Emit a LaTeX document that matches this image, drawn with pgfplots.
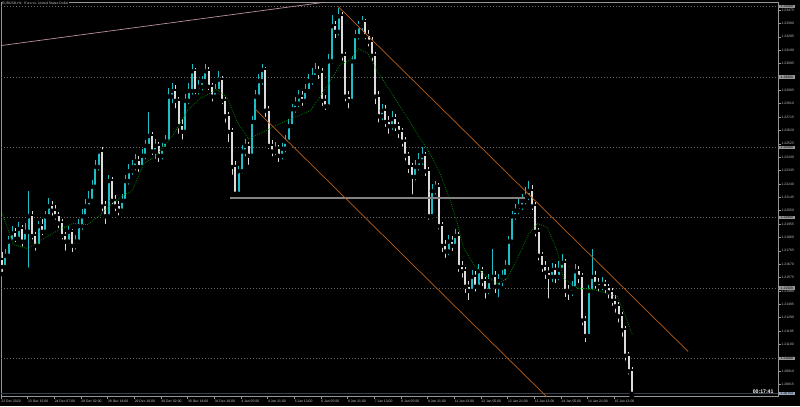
\documentclass[border=0pt]{standalone}
\usepackage{pgfplots}
\pgfplotsset{compat=1.18}
\usepackage{pgfplotstable}
\usepackage{fontspec}
\setmainfont{Liberation Sans}
\definecolor{bullc}{RGB}{30,190,200}
\definecolor{bearc}{RGB}{220,220,220}
\definecolor{mac}{RGB}{0,140,0}
\definecolor{levc}{RGB}{105,105,105}
\definecolor{chc}{RGB}{185,95,25}
\definecolor{trc}{RGB}{185,145,155}
\definecolor{hlc}{RGB}{130,130,130}
\definecolor{bidc}{RGB}{55,63,78}
\definecolor{bidbox}{RGB}{150,165,185}
\definecolor{boxc}{RGB}{150,150,150}
\definecolor{framec}{RGB}{150,150,150}
\definecolor{txtc}{RGB}{200,200,200}
\newcommand\tinyf{\fontsize{3.4}{4}\selectfont}
\tikzset{lvbox/.style={fill=boxc, text=black, font=\tinyf, inner xsep=1.6bp, inner ysep=0.5bp, anchor=west, xshift=0.6bp}}

\pgfplotstableread{
o h l c
1.2170 1.2176 1.2160 1.2165
1.2165 1.2178 1.2162 1.2173
1.2173 1.2187 1.2170 1.2183
1.2183 1.2194 1.2180 1.2189
1.2189 1.2193 1.2181 1.2185
1.2185 1.2197 1.2182 1.2192
1.2192 1.2195 1.2178 1.2183
1.2183 1.2196 1.2180 1.2190
1.2190 1.2219 1.2163 1.2201
1.2201 1.2205 1.2183 1.2187
1.2187 1.2190 1.2175 1.2180
1.2180 1.2198 1.2177 1.2194
1.2194 1.2199 1.2186 1.2190
1.2190 1.2205 1.2187 1.2201
1.2201 1.2214 1.2198 1.2208
1.2208 1.2212 1.2200 1.2205
1.2205 1.2209 1.2197 1.2201
1.2201 1.2204 1.2191 1.2196
1.2196 1.2199 1.2183 1.2187
1.2187 1.2190 1.2175 1.2183
1.2183 1.2194 1.2180 1.2190
1.2190 1.2192 1.2174 1.2180
1.2180 1.2188 1.2176 1.2183
1.2183 1.2199 1.2180 1.2194
1.2194 1.2206 1.2190 1.2201
1.2201 1.2213 1.2198 1.2208
1.2208 1.2219 1.2205 1.2212
1.2212 1.2227 1.2209 1.2222
1.2222 1.2241 1.2219 1.2236
1.2236 1.2249 1.2232 1.2247
1.2247 1.2250 1.2203 1.2208
1.2208 1.2212 1.2194 1.2201
1.2201 1.2230 1.2198 1.2226
1.2226 1.2229 1.2208 1.2212
1.2212 1.2216 1.2203 1.2208
1.2208 1.2212 1.2200 1.2205
1.2205 1.2217 1.2202 1.2212
1.2212 1.2230 1.2209 1.2226
1.2226 1.2238 1.2222 1.2233
1.2233 1.2241 1.2229 1.2236
1.2236 1.2245 1.2232 1.2240
1.2240 1.2244 1.2231 1.2236
1.2236 1.2249 1.2233 1.2244
1.2244 1.2255 1.2240 1.2251
1.2251 1.2275 1.2248 1.2258
1.2258 1.2261 1.2243 1.2247
1.2247 1.2256 1.2240 1.2251
1.2251 1.2254 1.2238 1.2244
1.2244 1.2253 1.2240 1.2249
1.2249 1.2259 1.2246 1.2254
1.2254 1.2292 1.2251 1.2286
1.2286 1.2296 1.2280 1.2290
1.2290 1.2294 1.2276 1.2283
1.2283 1.2286 1.2258 1.2265
1.2265 1.2270 1.2254 1.2261
1.2261 1.2288 1.2258 1.2283
1.2283 1.2296 1.2279 1.2290
1.2290 1.2309 1.2286 1.2304
1.2304 1.2306 1.2286 1.2290
1.2290 1.2298 1.2286 1.2293
1.2293 1.2301 1.2289 1.2297
1.2297 1.2309 1.2294 1.2304
1.2304 1.2307 1.2289 1.2293
1.2293 1.2296 1.2281 1.2286
1.2286 1.2295 1.2283 1.2290
1.2290 1.2304 1.2287 1.2298
1.2298 1.2301 1.2279 1.2283
1.2283 1.2286 1.2266 1.2272
1.2272 1.2275 1.2252 1.2261
1.2261 1.2264 1.2229 1.2236
1.2236 1.2240 1.2214 1.2217
1.2217 1.2237 1.2214 1.2233
1.2233 1.2252 1.2230 1.2247
1.2247 1.2256 1.2242 1.2251
1.2251 1.2254 1.2236 1.2244
1.2244 1.2272 1.2241 1.2268
1.2268 1.2291 1.2265 1.2286
1.2286 1.2302 1.2283 1.2297
1.2297 1.2309 1.2293 1.2305
1.2305 1.2307 1.2270 1.2276
1.2276 1.2279 1.2247 1.2251
1.2251 1.2255 1.2242 1.2247
1.2247 1.2254 1.2243 1.2249
1.2249 1.2252 1.2238 1.2244
1.2244 1.2253 1.2240 1.2249
1.2249 1.2259 1.2245 1.2254
1.2254 1.2270 1.2251 1.2265
1.2265 1.2281 1.2262 1.2277
1.2277 1.2286 1.2273 1.2281
1.2281 1.2291 1.2277 1.2286
1.2286 1.2290 1.2278 1.2283
1.2283 1.2295 1.2280 1.2290
1.2290 1.2302 1.2287 1.2297
1.2297 1.2306 1.2293 1.2300
1.2300 1.2310 1.2297 1.2304
1.2304 1.2308 1.2297 1.2303
1.2303 1.2306 1.2278 1.2283
1.2283 1.2287 1.2275 1.2279
1.2279 1.2316 1.2276 1.2311
1.2311 1.2344 1.2308 1.2336
1.2336 1.2340 1.2326 1.2332
1.2332 1.2349 1.2328 1.2343
1.2343 1.2346 1.2310 1.2315
1.2315 1.2318 1.2281 1.2286
1.2286 1.2290 1.2276 1.2283
1.2283 1.2315 1.2280 1.2311
1.2311 1.2333 1.2308 1.2329
1.2329 1.2340 1.2325 1.2336
1.2336 1.2343 1.2332 1.2339
1.2339 1.2341 1.2325 1.2329
1.2329 1.2333 1.2320 1.2325
1.2325 1.2328 1.2310 1.2315
1.2315 1.2318 1.2279 1.2286
1.2286 1.2290 1.2266 1.2272
1.2272 1.2281 1.2268 1.2276
1.2276 1.2280 1.2263 1.2268
1.2268 1.2272 1.2258 1.2265
1.2265 1.2276 1.2261 1.2270
1.2270 1.2274 1.2260 1.2265
1.2265 1.2268 1.2255 1.2261
1.2261 1.2264 1.2249 1.2254
1.2254 1.2257 1.2239 1.2244
1.2244 1.2247 1.2230 1.2236
1.2236 1.2239 1.2215 1.2229
1.2229 1.2241 1.2225 1.2236
1.2236 1.2246 1.2232 1.2240
1.2240 1.2250 1.2236 1.2244
1.2244 1.2247 1.2228 1.2233
1.2233 1.2236 1.2197 1.2201
1.2201 1.2224 1.2198 1.2219
1.2219 1.2226 1.2215 1.2222
1.2222 1.2225 1.2190 1.2194
1.2194 1.2197 1.2174 1.2180
1.2180 1.2184 1.2170 1.2176
1.2176 1.2188 1.2172 1.2183
1.2183 1.2187 1.2175 1.2180
1.2180 1.2192 1.2177 1.2187
1.2187 1.2190 1.2160 1.2165
1.2165 1.2169 1.2156 1.2162
1.2162 1.2165 1.2145 1.2151
1.2151 1.2155 1.2140 1.2148
1.2148 1.2163 1.2145 1.2158
1.2158 1.2162 1.2146 1.2151
1.2151 1.2167 1.2148 1.2162
1.2162 1.2165 1.2150 1.2155
1.2155 1.2158 1.2141 1.2148
1.2148 1.2160 1.2144 1.2155
1.2155 1.2178 1.2152 1.2158
1.2158 1.2162 1.2145 1.2151
1.2151 1.2160 1.2142 1.2155
1.2155 1.2163 1.2150 1.2158
1.2158 1.2170 1.2154 1.2165
1.2165 1.2187 1.2162 1.2183
1.2183 1.2205 1.2180 1.2201
1.2201 1.2210 1.2197 1.2205
1.2205 1.2213 1.2201 1.2208
1.2208 1.2217 1.2204 1.2212
1.2212 1.2222 1.2208 1.2215
1.2215 1.2226 1.2211 1.2219
1.2219 1.2223 1.2204 1.2208
1.2208 1.2211 1.2185 1.2190
1.2190 1.2193 1.2168 1.2173
1.2173 1.2176 1.2160 1.2165
1.2165 1.2169 1.2155 1.2161
1.2161 1.2165 1.2141 1.2158
1.2158 1.2168 1.2153 1.2163
1.2163 1.2167 1.2152 1.2158
1.2158 1.2169 1.2154 1.2163
1.2163 1.2174 1.2160 1.2168
1.2168 1.2171 1.2142 1.2148
1.2148 1.2152 1.2140 1.2147
1.2147 1.2155 1.2143 1.2150
1.2150 1.2167 1.2147 1.2162
1.2162 1.2166 1.2152 1.2158
1.2158 1.2161 1.2122 1.2127
1.2127 1.2130 1.2110 1.2116
1.2116 1.2152 1.2113 1.2148
1.2148 1.2178 1.2145 1.2158
1.2158 1.2162 1.2148 1.2153
1.2153 1.2157 1.2146 1.2151
1.2151 1.2158 1.2147 1.2153
1.2153 1.2156 1.2145 1.2150
1.2150 1.2153 1.2141 1.2147
1.2147 1.2150 1.2136 1.2141
1.2141 1.2145 1.2131 1.2137
1.2137 1.2140 1.2124 1.2130
1.2130 1.2133 1.2114 1.2120
1.2120 1.2123 1.2097 1.2102
1.2102 1.2105 1.2087 1.2091
1.2091 1.2094 1.2073 1.2075
}\candles

\begin{document}
\begin{tikzpicture}[x=1bp,y=1bp]
\useasboundingbox (0,0) rectangle (800,406);
\fill[black] (0,0) rectangle (800,406);
\begin{axis}[
  at={(0.5,6.7)}, anchor=south west,
  scale only axis, width=777.5bp, height=394bp,
  xmin=-0.12, xmax=466.4, ymin=1.20730, ymax=1.23528,
  axis line style={draw=framec, line width=0.6bp},
  xtick={0,16,...,368},
  xticklabels={22 Dec 2020,23 Dec 15:00,24 Dec 07:00,28 Dec 02:00,28 Dec 18:00,29 Dec 10:00,30 Dec 02:00,30 Dec 18:00,31 Dec 10:00,4 Jan 05:00,4 Jan 21:00,5 Jan 13:00,6 Jan 05:00,6 Jan 21:00,7 Jan 13:00,8 Jan 05:00,8 Jan 21:00,11 Jan 13:00,12 Jan 05:00,12 Jan 21:00,13 Jan 13:00,14 Jan 05:00,14 Jan 21:00,15 Jan 13:00},
  ytick={1.20815,1.20910,1.21005,1.21100,1.21195,1.21290,1.21385,1.21480,1.21575,1.21670,1.21765,1.21860,1.21955,1.22050,1.22145,1.22240,1.22335,1.22430,1.22525,1.22620,1.22715,1.22810,1.22905,1.23000,1.23095,1.23190,1.23285,1.23380,1.23475},
  xtick pos=bottom, ytick pos=right, yticklabel pos=right,
  tick align=outside, major tick length=2.5bp,
  tick style={draw=framec, line width=0.5bp},
  xticklabel style={font=\tinyf, text=txtc, anchor=north west, xshift=-0.3bp, inner sep=0.5bp},
  yticklabel style={font=\tinyf, text=txtc, anchor=west, inner sep=0.6bp,
     /pgf/number format/.cd, fixed, fixed zerofill, precision=5, assume math mode=true},
  scaled y ticks=false,
  clip mode=individual,
]
% level lines
\addplot[levc, line width=0.6bp, dash pattern=on 1.5bp off 1.5bp] coordinates {(-0.12,1.2350) (466.4,1.2350)};
\addplot[levc, line width=0.6bp, dash pattern=on 1.5bp off 1.5bp] coordinates {(-0.12,1.2300) (466.4,1.2300)};
\addplot[levc, line width=0.6bp, dash pattern=on 1.5bp off 1.5bp] coordinates {(-0.12,1.2250) (466.4,1.2250)};
\addplot[levc, line width=0.6bp, dash pattern=on 1.5bp off 1.5bp] coordinates {(-0.12,1.2200) (466.4,1.2200)};
\addplot[levc, line width=0.6bp, dash pattern=on 1.5bp off 1.5bp] coordinates {(-0.12,1.2150) (466.4,1.2150)};
\addplot[levc, line width=0.6bp, dash pattern=on 1.5bp off 1.5bp] coordinates {(-0.12,1.2100) (466.4,1.2100)};
% bid line
\addplot[bidc, line width=1.6bp] coordinates {(-0.12,1.20753) (466.4,1.20753)};
% wicks (length scaled by bull/bear fraction)
\addplot[only marks, mark=none, error bars/.cd, y dir=plus, y explicit, error mark=none, error bar style={draw=bearc, line width=0.6bp}]
  table[x expr=2*\coordindex+0.5, y=l, y error expr={(\thisrow{h}-\thisrow{l})*max(\thisrow{o}-\thisrow{c},0)/(abs(\thisrow{o}-\thisrow{c})+0.0000001)}] {\candles};
\addplot[only marks, mark=none, error bars/.cd, y dir=plus, y explicit, error mark=none, error bar style={draw=bullc, line width=0.6bp}]
  table[x expr=2*\coordindex+0.5, y=l, y error expr={(\thisrow{h}-\thisrow{l})*max(\thisrow{c}-\thisrow{o},0)/(abs(\thisrow{c}-\thisrow{o})+0.0000001)}] {\candles};
% bodies
\addplot[only marks, mark=none, error bars/.cd, y dir=plus, y explicit, error mark=none, error bar style={draw=bullc, line width=2bp}]
  table[x expr=2*\coordindex+0.5, y=o, y error expr={max(\thisrow{c}-\thisrow{o},0)}] {\candles};
\addplot[only marks, mark=none, error bars/.cd, y dir=plus, y explicit, error mark=none, error bar style={draw=bearc, line width=2bp}]
  table[x expr=2*\coordindex+0.5, y=c, y error expr={max(\thisrow{o}-\thisrow{c},0)}] {\candles};
% moving average
\addplot[mac, line width=0.8bp, dash pattern=on 0.7bp off 1.3bp] coordinates {
(0.8,1.2203) (7.4,1.2181) (15.8,1.2178) (25.4,1.2185) (35.6,1.2192) (43.4,1.2196) (51.8,1.2195) (59.6,1.2202) (65.6,1.2209) (73.4,1.2216) (78.8,1.2219) (85.4,1.2238) (93.8,1.2245) (103.4,1.2259) (111.8,1.2276) (119.6,1.2285) (129.8,1.2291) (135.8,1.2285) (141.8,1.2268) (148.4,1.2256) (157.4,1.2261) (167.6,1.2267) (185.6,1.2276) (197.6,1.2297) (203.6,1.2309) (209.6,1.2312) (214.4,1.2320) (219.8,1.2317) (225.8,1.2304) (233.6,1.2290) (238.4,1.2281) (257.6,1.2245) (263.6,1.2231) (269.6,1.2212) (273.8,1.2196) (277.4,1.2179) (283.4,1.2167) (289.4,1.2160) (297.8,1.2153) (303.8,1.2157) (309.8,1.2171) (316.4,1.2188) (321.8,1.2196) (327.8,1.2193) (333.8,1.2176) (337.4,1.2157) (345.8,1.2150) (355.4,1.2149) (369.8,1.2144) (373.4,1.2134) (378.8,1.2117)};
% horizontal support line
\addplot[hlc, line width=1.1bp] coordinates {(137.6,1.2214) (314.5,1.2214)};
% trend line
\addplot[trc, line width=0.7bp] coordinates {(-0.4,1.23222) (194.6,1.23531)};
% channel
\addplot[chc, line width=0.7bp] coordinates {(202.3,1.2350) (412.3,1.2105)};
\addplot[chc, line width=0.7bp] coordinates {(152.6,1.2277) (335,1.2064)};
% level boxes
\node[lvbox] at (axis cs:466.4,1.2350) {1.23500};
\node[lvbox] at (axis cs:466.4,1.2300) {1.23000};
\node[lvbox] at (axis cs:466.4,1.2250) {1.22500};
\node[lvbox] at (axis cs:466.4,1.2200) {1.22000};
\node[lvbox] at (axis cs:466.4,1.2150) {1.21500};
\node[lvbox] at (axis cs:466.4,1.2100) {1.21000};
\node[lvbox, fill=bidbox] at (axis cs:466.4,1.20753) {1.20753};
\end{axis}
\node[anchor=north west, fill=black, text=txtc, font=\tinyf, inner sep=0.4bp] at (1.5,404.6) {EURUSD,H1:\ \ Euro vs. United States Dollar};
\node[anchor=east, text=white, font=\fontsize{5.2}{6}\selectfont\bfseries, inner sep=0.3bp] at (774,14.6) {00:17:41};
\end{tikzpicture}
\end{document}
